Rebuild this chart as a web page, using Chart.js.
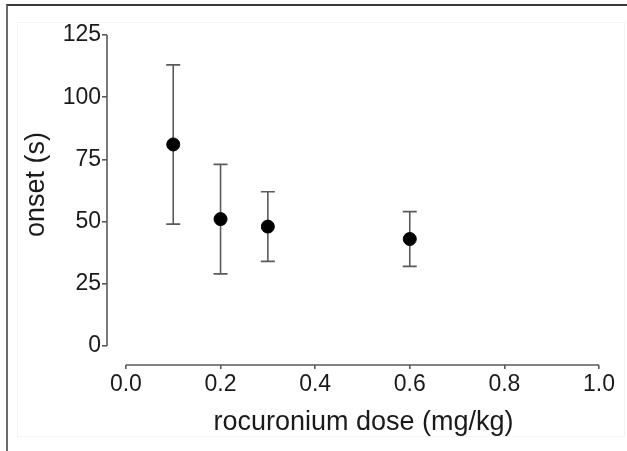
<!DOCTYPE html>
<html>
<head>
<meta charset="utf-8">
<script src="https://cdn.jsdelivr.net/npm/chart.js@4"></script>
<style>
  html, body { margin: 0; padding: 0; background: #fff; }
  #wrap { position: relative; width: 627px; height: 451px; overflow: hidden; }
  #frame { position: absolute; left: 6px; top: 4px; width: 640px; height: 460px;
           border-top: 2px solid #3a3a3a; border-left: 2px solid #6a6a6a; }
  #inner { position: absolute; left: 17px; top: 22px; width: 606px; height: 413px;
           border: 1px solid #f3f3f3; }
  canvas { position: absolute; left: 0; top: 0; }
</style>
</head>
<body>
<div id="wrap">
  <div id="frame"></div>
  <div id="inner"></div>
  <canvas id="c" width="627" height="451"></canvas>
</div>
<script>
// Data
const doses = [0.1, 0.2, 0.3, 0.6];
const onsetMean = [81, 51, 48, 43];
const onsetUpper = [113, 73, 62, 54];
const onsetLower = [49, 29, 34, 32];
const xTicks = [0.0, 0.2, 0.4, 0.6, 0.8, 1.0];
const yTicks = [0, 25, 50, 75, 100, 125];
const xTitle = 'rocuronium dose (mg/kg)';
const yTitle = 'onset (s)';

const axisColor = '#5a5a5a';
const textColor = '#1a1a1a';
const fontFamily = '"Liberation Sans", Arial, sans-serif';

const errorBars = {
  id: 'errorBars',
  beforeDatasetsDraw(chart) {
    const { ctx, scales: { x, y } } = chart;
    ctx.save();
    ctx.strokeStyle = axisColor;
    ctx.lineWidth = 1.6;
    doses.forEach((d, i) => {
      const px = x.getPixelForValue(d);
      const top = y.getPixelForValue(onsetUpper[i]);
      const bot = y.getPixelForValue(onsetLower[i]);
      const cap = 7;
      ctx.beginPath();
      ctx.moveTo(px, top); ctx.lineTo(px, bot);
      ctx.moveTo(px - cap, top); ctx.lineTo(px + cap, top);
      ctx.moveTo(px - cap, bot); ctx.lineTo(px + cap, bot);
      ctx.stroke();
    });
    ctx.restore();
  }
};

const spinesAndTitles = {
  id: 'spinesAndTitles',
  afterDraw(chart) {
    const { ctx, chartArea, scales: { x, y } } = chart;
    ctx.save();
    ctx.strokeStyle = axisColor;
    ctx.lineWidth = 1.6;
    ctx.beginPath();
    ctx.moveTo(chartArea.left, y.getPixelForValue(yTicks[0]));
    ctx.lineTo(chartArea.left, y.getPixelForValue(yTicks[yTicks.length - 1]));
    ctx.moveTo(x.getPixelForValue(xTicks[0]), chartArea.bottom);
    ctx.lineTo(x.getPixelForValue(xTicks[xTicks.length - 1]), chartArea.bottom);
    ctx.stroke();

    // axis titles, centred on the spines
    ctx.fillStyle = textColor;
    ctx.font = '27px ' + fontFamily;
    ctx.textAlign = 'center';
    ctx.textBaseline = 'alphabetic';
    const xMid = (x.getPixelForValue(xTicks[0]) + x.getPixelForValue(xTicks[xTicks.length - 1])) / 2;
    ctx.fillText(xTitle, xMid + 1, 430);

    const yMid = (y.getPixelForValue(yTicks[0]) + y.getPixelForValue(yTicks[yTicks.length - 1])) / 2;
    ctx.translate(37, yMid - 6);
    ctx.rotate(-Math.PI / 2);
    ctx.textBaseline = 'middle';
    ctx.fillText(yTitle, 0, 0);
    ctx.restore();
  }
};

new Chart(document.getElementById('c'), {
  type: 'scatter',
  data: {
    datasets: [{
      data: doses.map((d, i) => ({ x: d, y: onsetMean[i] })),
      backgroundColor: '#000',
      borderColor: '#000',
      pointRadius: 6.5,
      pointHoverRadius: 6.5
    }]
  },
  options: {
    responsive: false,
    animation: false,
    events: [],
    layout: { padding: { left: 16, right: 28, top: 35, bottom: 10 } },
    plugins: { legend: { display: false }, tooltip: { enabled: false } },
    scales: {
      x: {
        type: 'linear',
        min: -0.04,
        max: 1.0,
        afterBuildTicks: (s) => { s.ticks = xTicks.map(v => ({ value: v })); },
        afterFit: (s) => { s.height = 76; },
        border: { display: false },
        grid: { drawOnChartArea: false, drawTicks: true, tickLength: 4, color: axisColor, lineWidth: 1.6 },
        ticks: {
          color: textColor, padding: 2, maxRotation: 0, autoSkip: false,
          font: { family: fontFamily, size: 23 },
          callback: (v) => Number(v).toFixed(1)
        },
        title: { display: false }
      },
      y: {
        type: 'linear',
        min: -7.64,
        max: 125,
        afterBuildTicks: (s) => { s.ticks = yTicks.map(v => ({ value: v })); },
        afterFit: (s) => { s.width = 91; },
        border: { display: false },
        grid: { drawOnChartArea: false, drawTicks: true, tickLength: 5, color: axisColor, lineWidth: 1.6 },
        ticks: {
          color: textColor, padding: 1, autoSkip: false,
          font: { family: fontFamily, size: 23 }
        },
        title: { display: false }
      }
    }
  },
  plugins: [errorBars, spinesAndTitles]
});
</script>
</body>
</html>
